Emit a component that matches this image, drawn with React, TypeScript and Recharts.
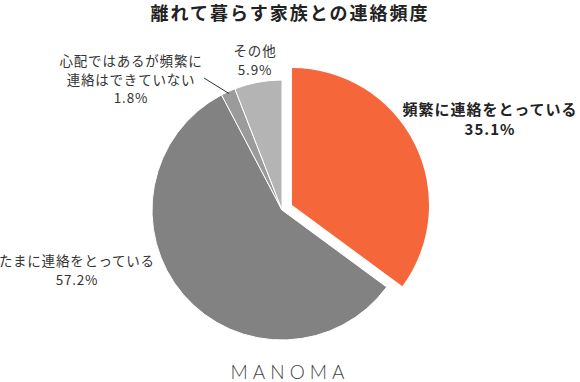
import React from 'react';
import { PieChart, Pie, Cell } from 'recharts';

// 離れて暮らす家族との連絡頻度
const categories = ['頻繁に連絡をとっている', 'たまに連絡をとっている', '心配ではあるが頻繁に連絡はできていない', 'その他'];
const shares = [35.1, 57.2, 1.8, 5.9];
const labelText = [['頻繁に連絡をとっている'], ['たまに連絡をとっている'], ['心配ではあるが頻繁に', '連絡はできていない'], ['その他']];
const colors = ['#F5673B', '#828282', '#9B9B9B', '#B4B4B4'];

const data = categories.map((name, i) => ({ name, value: shares[i] }));
// highlighted (exploded) slice drawn on its own pie
const highlight = [
  { name: categories[0], value: shares[0] },
  { name: 'rest', value: shares.slice(1).reduce((a, b) => a + b, 0) },
];

const labelPos = [
  { x: 490, y: 108, gap: 20 },
  { x: 77, y: 260, gap: 18.5 },
  { x: 131, y: 60, gap: 18.5 },
  { x: 255, y: 50, gap: 18.5 },
];

const RAD = Math.PI / 180;

const renderLabel = (props: any) => {
  const { index, cx, cy, midAngle, outerRadius } = props;
  const p = labelPos[index];
  const bold = index === 0;
  const lines = [...labelText[index], `${shares[index]}%`];
  let leader = null;
  if (index === 2) {
    const sx = cx + (outerRadius - 2) * Math.cos(-midAngle * RAD);
    const sy = cy + (outerRadius - 2) * Math.sin(-midAngle * RAD);
    leader = <line x1={sx} y1={sy} x2={p.x + 73} y2={p.y + 18} stroke="#333" strokeWidth={1} />;
  }
  return (
    <g key={`lbl-${index}`}>
      {leader}
      {lines.map((t, i) => (
        <text
          key={i}
          x={p.x}
          y={p.y + i * p.gap}
          textAnchor="middle"
          dominantBaseline="central"
          fill={bold ? '#222' : '#333'}
          fontSize={bold ? 15 : 13.5}
          fontWeight={bold ? 700 : 400}
          letterSpacing={bold ? 1 : 0.8}
          fontFamily="'Noto Sans CJK JP', 'Noto Sans', sans-serif"
        >
          {t}
        </text>
      ))}
    </g>
  );
};

export default function App() {
  return (
    <div style={{ position: 'absolute', left: 0, top: 0, width: 580, height: 382, background: '#fff', overflow: 'hidden' }}>
      <div
        style={{
          position: 'absolute',
          left: 0,
          top: 2,
          width: 580,
          textAlign: 'center',
          fontFamily: "'Noto Sans CJK JP', sans-serif",
          fontWeight: 700,
          fontSize: 18,
          letterSpacing: 2,
          lineHeight: '20px',
          color: '#222',
        }}
      >
        離れて暮らす家族との連絡頻度
      </div>
      <PieChart width={580} height={382} margin={{ top: 0, right: 0, bottom: 0, left: 0 }}>
        <Pie
          data={data}
          dataKey="value"
          nameKey="name"
          cx={282}
          cy={210}
          outerRadius={130}
          startAngle={90}
          endAngle={-270}
          stroke="#fff"
          strokeWidth={1}
          label={renderLabel}
          labelLine={false}
          isAnimationActive={false}
        >
          {data.map((d, i) => (
            <Cell key={d.name} fill={i === 0 ? 'transparent' : colors[i]} stroke={i === 0 ? 'none' : '#fff'} />
          ))}
        </Pie>
        <Pie
          data={highlight}
          dataKey="value"
          nameKey="name"
          cx={292}
          cy={205}
          outerRadius={137}
          startAngle={90}
          endAngle={-270}
          stroke="none"
          isAnimationActive={false}
        >
          <Cell fill={colors[0]} />
          <Cell fill="transparent" />
        </Pie>
      </PieChart>
      <div
        style={{
          position: 'absolute',
          left: 0,
          top: 363,
          width: 580,
          textAlign: 'center',
          fontFamily: 'Lato, sans-serif',
          fontWeight: 300,
          fontSize: 19,
          letterSpacing: 5,
          lineHeight: '18px',
          color: '#444',
        }}
      >
        MANOMA
      </div>
    </div>
  );
}
